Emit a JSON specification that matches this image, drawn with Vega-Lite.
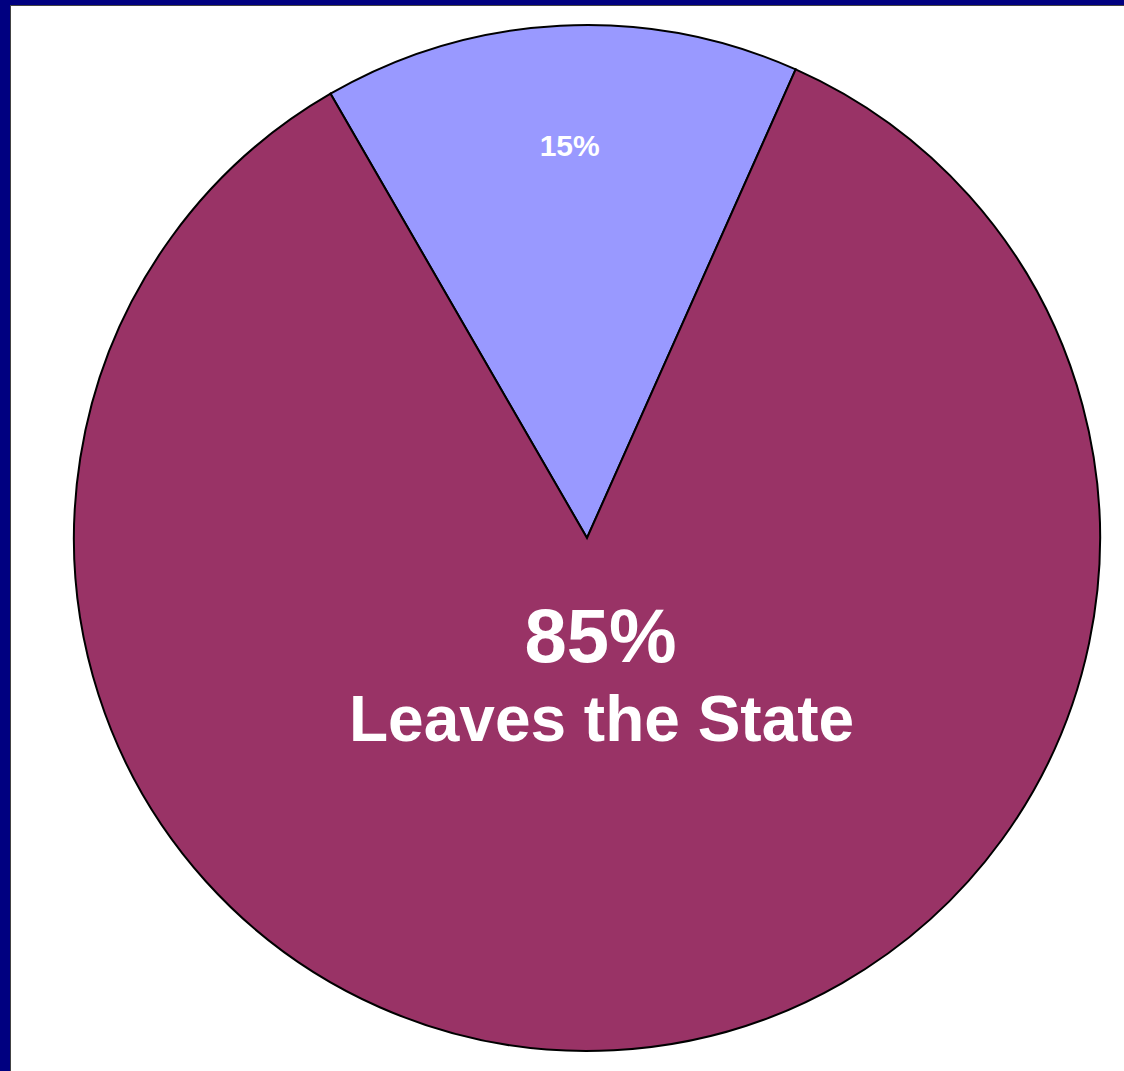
{
  "$schema": "https://vega.github.io/schema/vega-lite/v6.json",
  "width": 1154,
  "height": 1066,
  "autosize": {"type": "none"},
  "padding": {"left": 10, "top": 5, "right": -40, "bottom": 0},
  "background": "#000080",
  "view": {"fill": "white", "stroke": "#444444", "strokeWidth": 1},
  "data": {"values": [
    {"category": "Stays in the State", "value": 15, "pct": "15%"},
    {"category": "Leaves the State", "value": 85, "pct": "85%"}
  ]},
  "encoding": {
    "theta": {"field": "value", "type": "quantitative", "stack": true, "scale": {"range": [-0.5236, 5.7596]}},
    "order": {"field": "value", "sort": "ascending"}
  },
  "layer": [
    {
      "mark": {"type": "arc", "radius": 513, "stroke": "black", "strokeWidth": 2},
      "encoding": {
        "color": {"field": "category", "type": "nominal", "legend": null,
          "scale": {"domain": ["Stays in the State", "Leaves the State"], "range": ["#9999FF", "#993366"]}}
      }
    },
    {
      "mark": {"type": "text", "radius": 388, "font": "Liberation Sans", "fontWeight": "bold", "fontSize": 30, "color": "white", "baseline": "middle", "align": "center", "dx": 3, "dy": -4},
      "encoding": {
        "text": {"condition": {"test": "datum.value == 15", "field": "pct"}, "value": ""}
      }
    },
    {
      "mark": {"type": "text", "radius": 145, "font": "Liberation Sans", "fontWeight": "bold", "fontSize": 76, "color": "white", "baseline": "middle", "align": "center", "dx": 6, "dy": -44},
      "encoding": {
        "text": {"condition": {"test": "datum.value == 85", "field": "pct"}, "value": ""}
      }
    },
    {
      "mark": {"type": "text", "radius": 145, "font": "Liberation Sans", "fontWeight": "bold", "fontSize": 64, "color": "white", "baseline": "middle", "align": "center", "dx": 7, "dy": 39},
      "encoding": {
        "text": {"condition": {"test": "datum.value == 85", "field": "category"}, "value": ""}
      }
    }
  ]
}
